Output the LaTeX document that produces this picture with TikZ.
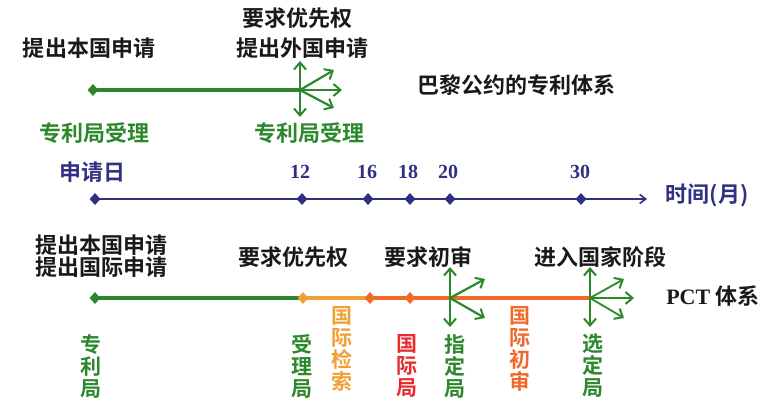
\documentclass[tikz,border=0pt]{standalone}
\usepackage{fontspec}
\newfontfamily\cjk{Noto Sans CJK SC Bold}
\newfontfamily\serifb{Liberation Serif Bold}
\usetikzlibrary{shapes.geometric,arrows.meta}
\definecolor{pgreen}{RGB}{44,136,44}
\definecolor{pnavy}{RGB}{48,48,130}
\definecolor{pyell}{RGB}{240,160,50}
\definecolor{porange}{RGB}{240,105,40}
\definecolor{pred}{RGB}{230,45,45}
\definecolor{ptext}{RGB}{25,25,25}
\tikzset{
  lbl/.style={font=\cjk\fontsize{22}{22}\selectfont, text=ptext, inner sep=0pt},
  glbl/.style={lbl, text=pgreen},
  nlbl/.style={lbl, text=pnavy},
  num/.style={font=\serifb\fontsize{20}{22}\selectfont, text=pnavy, inner sep=0pt},
  vtxt/.style={font=\cjk\fontsize{21}{22}\selectfont, inner sep=0pt, align=center, anchor=north},
  dia/.style={diamond, fill=#1, inner sep=0pt, minimum width=11pt, minimum height=12pt},
  mainline/.style={line width=3.4pt},
  harrow/.style={pgreen, line width=2.2pt, -{Straight Barb[length=7pt,width=12pt,line width=2pt]}},
}
\begin{document}
\begin{tikzpicture}[x=1pt,y=-1pt]
\useasboundingbox (0,0) rectangle (773,400);
% ---------- Paris Convention ----------
\node[lbl] (t1) at (89,48) {提出本国申请};
\node[lbl] (t2) at (297,18) {要求优先权};
\node[lbl] (t3) at (302,48) {提出外国申请};
\node[glbl] (g1) at (94,133) {专利局受理};
\node[glbl] (g2) at (309,133) {专利局受理};
\node[lbl] (paris) at (516,85) {巴黎公约的专利体系};
\node[dia=pgreen] (pa) at (93,90) {};
\coordinate (ph) at (300,90);
\draw[pgreen, mainline] (pa.center) -- (ph);
\coordinate (pu) at (300,61);
\coordinate (pd) at (300,117);
\coordinate (pr) at (342,90);
\coordinate (pur) at (334,70);
\coordinate (pdr) at (334,108);
\foreach \e in {pu,pd,pr,pur,pdr} \draw[harrow] (ph) -- (\e);
% ---------- Time axis ----------
\node[dia=pnavy] (a0) at (95,199) {};
\node[dia=pnavy] (a12) at (302,199) {};
\node[dia=pnavy] (a16) at (368,199) {};
\node[dia=pnavy] (a18) at (410,199) {};
\node[dia=pnavy] (a20) at (450,199) {};
\node[dia=pnavy] (a30) at (581,199) {};
\coordinate (aend) at (647,199);
\draw[pnavy, line width=2.2pt, -{Straight Barb[length=6pt,width=9pt,line width=1.6pt]}] (a0.center) -- (aend);
\node[nlbl] (l0) at (92,172) {申请日};
\node[num] (l12) at (300,172) {12};
\node[num] (l16) at (367,172) {16};
\node[num] (l18) at (408,172) {18};
\node[num] (l20) at (448,172) {20};
\node[num] (l30) at (580,172) {30};
\node[nlbl] (unit) at (707,195) {时间(月)};
% ---------- PCT ----------
\node[lbl, align=center] (b1) at (101,256) {提出本国申请\\提出国际申请};
\node[lbl] (b2) at (293,257) {要求优先权};
\node[lbl] (b3) at (428,257) {要求初审};
\node[lbl] (b4) at (600,257) {进入国家阶段};
\node[lbl, font=\serifb\fontsize{22}{22}\selectfont] (pct) at (713,296) {PCT {\cjk 体系}};
\coordinate (c0) at (95,298);
\coordinate (c12) at (303,298);
\coordinate (c16) at (370,298);
\coordinate (c30) at (590,298);
\draw[pgreen, mainline] (c0) -- (c12);
\draw[pyell, mainline] (c12) -- (c16);
\draw[porange, mainline] (c16) -- (c30);
\node[dia=pgreen] (d0) at (c0) {};
\node[dia=pyell] (d12) at (c12) {};
\node[dia=porange] (d16) at (c16) {};
\node[dia=porange] (d18) at (410,298) {};
\coordinate (h1) at (450,298);
\coordinate (h1u) at (450,267);
\coordinate (h1d) at (450,327);
\coordinate (h1ur) at (485,279);
\coordinate (h1dr) at (485,318);
\foreach \e in {h1u,h1d,h1ur,h1dr} \draw[harrow] (h1) -- (\e);
\coordinate (h2) at (590,298);
\coordinate (h2u) at (590,267);
\coordinate (h2d) at (590,327);
\coordinate (h2r) at (634,298);
\coordinate (h2ur) at (624,279);
\coordinate (h2dr) at (624,318);
\foreach \e in {h2u,h2d,h2r,h2ur,h2dr} \draw[harrow, line width=1.8pt] (h2) -- (\e);
% vertical labels
\node[vtxt, text=pgreen] (v1) at (91,334) {专\\利\\局};
\node[vtxt, text=pgreen] (v2) at (302,334) {受\\理\\局};
\node[vtxt, text=pyell] (v3) at (342,306) {国\\际\\检\\索};
\node[vtxt, text=pred] (v4) at (407,334) {国\\际\\局};
\node[vtxt, text=pgreen] (v5) at (455,334) {指\\定\\局};
\node[vtxt, text=porange] (v6) at (520,306) {国\\际\\初\\审};
\node[vtxt, text=pgreen] (v7) at (593,334) {选\\定\\局};
\end{tikzpicture}
\end{document}
